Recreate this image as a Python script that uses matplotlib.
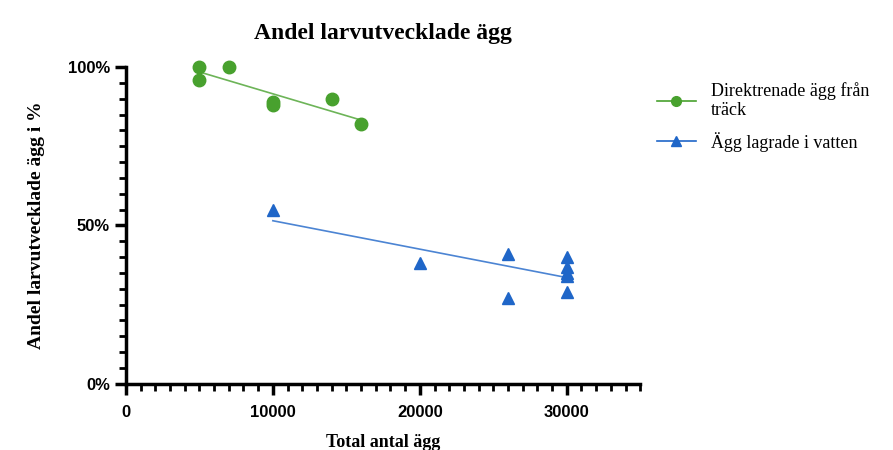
import numpy as np
import matplotlib
matplotlib.use("Agg")
import matplotlib.pyplot as plt
from matplotlib.ticker import MultipleLocator, FuncFormatter

# data
green_x = [5000, 5000, 7000, 10000, 10000, 14000, 16000]
green_y = [100, 96, 100, 89, 88, 90, 82]
blue_x = [10000, 20000, 26000, 26000, 30000, 30000, 30000, 30000, 30000]
blue_y = [55, 38, 41, 27, 40, 37, 35, 34, 29]
labels = ["Direktrenade ägg från\nträck", "Ägg lagrade i vatten"]

GREEN = "#48a12e"
BLUE = "#1f66c8"

fig = plt.figure(figsize=(8.93, 4.5), dpi=100)
ax = fig.add_axes([0.141, 0.147, 0.576, 0.704])

for xs, ys, c, m, lab in [(green_x, green_y, GREEN, "o", labels[0]),
                          (blue_x, blue_y, BLUE, "^", labels[1])]:
    xs = np.array(xs, float); ys = np.array(ys, float)
    k = np.polyfit(xs, ys, 1)
    xl = np.array([xs.min(), xs.max()])
    ax.plot(xl, np.polyval(k, xl), color=c, lw=1.2, alpha=0.8)
    ax.plot(xs, ys, ls="none", marker=m, ms=9, color=c, clip_on=False, zorder=3)
    ax.plot([], [], color=c, marker=m, ms=7, lw=1.2, label=lab)

ax.set_xlim(0, 35000)
ax.set_ylim(0, 100)
ax.xaxis.set_major_locator(MultipleLocator(10000))
ax.xaxis.set_minor_locator(MultipleLocator(1000))
ax.yaxis.set_major_locator(MultipleLocator(50))
ax.yaxis.set_minor_locator(MultipleLocator(5))
ax.yaxis.set_major_formatter(FuncFormatter(lambda v, p: f"{v:.0f}%"))
for s in ["top", "right"]:
    ax.spines[s].set_visible(False)
for s in ["left", "bottom"]:
    ax.spines[s].set_linewidth(2.5)
ax.tick_params(which="major", length=8, width=2.5, labelsize=12)
ax.tick_params(axis="x", which="major", pad=7)
ax.tick_params(which="minor", length=5, width=2)
for t in ax.get_xticklabels() + ax.get_yticklabels():
    t.set_family("Liberation Sans")
    t.set_fontweight("bold")

ax.set_title("Andel larvutvecklade ägg", family="Liberation Serif",
             fontweight="bold", fontsize=17, pad=20)
ax.set_xlabel("Total antal ägg", family="Liberation Serif", fontweight="bold",
              fontsize=13, labelpad=10)
ax.set_ylabel("Andel larvutvecklade ägg i %", family="Liberation Serif",
              fontweight="bold", fontsize=14, labelpad=16)

ax.legend(loc="upper left", bbox_to_anchor=(1.0, 1.005), frameon=False,
          prop={"family": "Liberation Serif", "size": 13}, handlelength=2.2,
          labelspacing=0.7)

fig.savefig("out.png", dpi=100)
